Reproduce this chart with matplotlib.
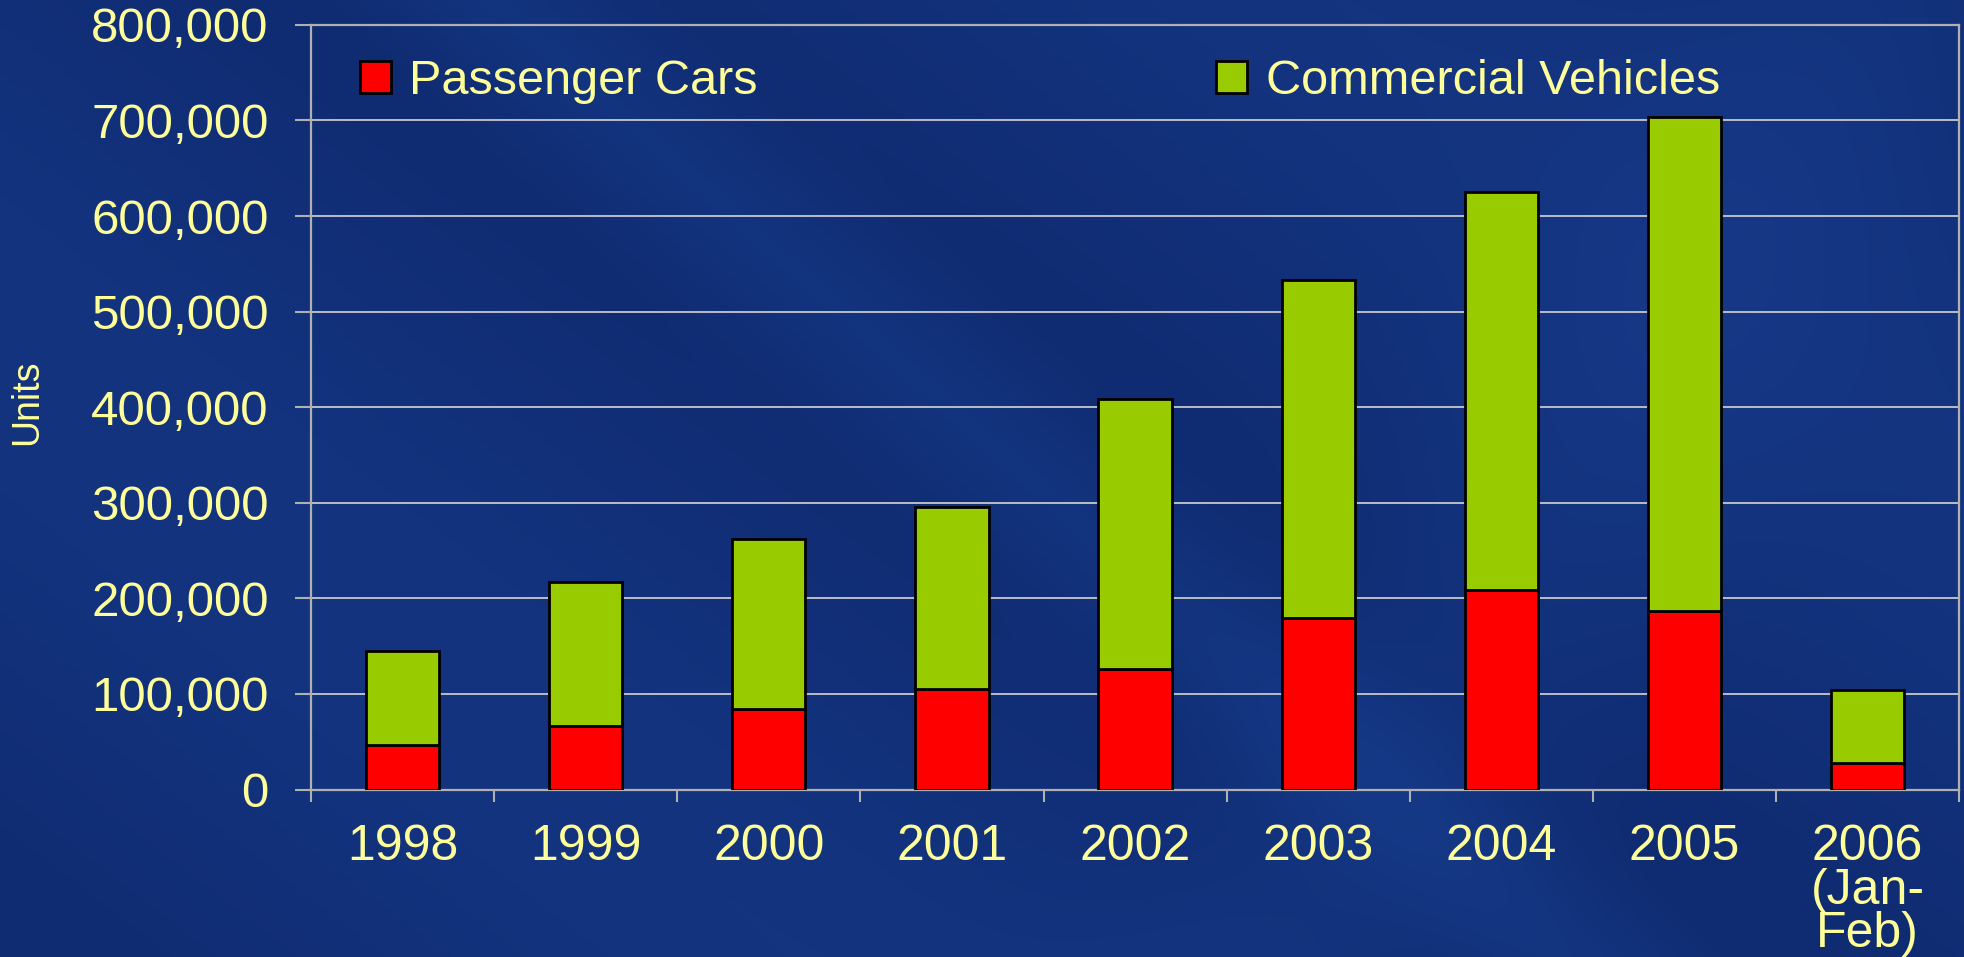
import numpy as np
import matplotlib
matplotlib.use("Agg")
import matplotlib.pyplot as plt
from matplotlib.patches import Patch

# ---- data ----
years = ["1998", "1999", "2000", "2001", "2002", "2003", "2004", "2005", "2006\n(Jan-\nFeb)"]
passenger_cars = [47000, 66500, 84000, 105000, 126000, 179000, 209000, 187000, 28000]
totals = [145000, 217500, 262000, 296000, 409000, 533000, 625000, 704000, 104000]
commercial_vehicles = [t - p for t, p in zip(totals, passenger_cars)]
yticks = [0, 100000, 200000, 300000, 400000, 500000, 600000, 700000, 800000]

TXT = "#FFFF99"
plt.rcParams['font.family'] = ['Liberation Sans', 'DejaVu Sans']

fig = plt.figure(figsize=(19.65, 9.57), dpi=100)

# background gradient
bg = fig.add_axes([0, 0, 1, 1], zorder=-10)
h, w = 240, 490
yy, xx = np.mgrid[0:h, 0:w]
u = xx / w
v = yy / h
base = np.array([20, 52, 128]) / 255.0
dark = np.array([10, 34, 98]) / 255.0
light = np.array([28, 70, 155]) / 255.0
t = 0.5 + 0.5 * np.sin((u * 2.2 - v * 1.4) * np.pi)
band = np.exp(-((u - 0.55 * v - 0.25) ** 2) / 0.004) * 0.6 + np.exp(-((u + 0.3 * v - 0.95) ** 2) / 0.01) * 0.4
img = base[None, None, :] * (1 - 0.5 * t[..., None]) + dark[None, None, :] * (0.5 * t[..., None])
img = img * (1 - band[..., None] * 0.5) + light[None, None, :] * band[..., None] * 0.5
bg.imshow(np.clip(img, 0, 1), aspect='auto', extent=[0, 1, 0, 1], interpolation='bilinear')
bg.axis('off')

ax = fig.add_axes([0.1583, 0.175, 0.8387, 0.799])
ax.set_facecolor('none')

x = np.arange(len(years))
bw = 0.4
ax.bar(x, passenger_cars, bw, color='#FF0000', edgecolor='black', linewidth=2, zorder=3,
       label='Passenger Cars')
ax.bar(x, commercial_vehicles, bw, bottom=passenger_cars, color='#99CC00', edgecolor='black',
       linewidth=2, zorder=3, label='Commercial Vehicles')

ax.set_xlim(-0.5, len(years) - 0.5)
ax.set_ylim(0, 800000)
ax.set_yticks(yticks)
ax.set_yticklabels([f"{v:,}" for v in yticks])
ax.set_xticks(x)
ax.set_xticklabels(years, linespacing=0.93, va='top')
ax.set_xticks(np.arange(-0.5, len(years), 1.0), minor=True)

ax.grid(axis='y', color='#C8C8C8', linewidth=1.3, zorder=0)
ax.set_axisbelow(True)

for s in ['left', 'bottom', 'right', 'top']:
    ax.spines[s].set_color('#B0B0B0')
    ax.spines[s].set_linewidth(1.6)

ax.tick_params(axis='y', colors='#B0B0B0', labelcolor=TXT, labelsize=35.5, length=11.5,
               width=1.5, pad=19)
ax.tick_params(axis='x', which='major', length=0, labelcolor=TXT, labelsize=36, pad=25)
ax.tick_params(axis='x', which='minor', length=8.5, width=1.5, colors='#B0B0B0')

fig.text(0.014, 0.58, "Units", rotation=90, color=TXT, fontsize=27, ha='center', va='center')

handles = [Patch(facecolor='#FF0000', edgecolor='black', linewidth=2),
           Patch(facecolor='#99CC00', edgecolor='black', linewidth=2)]
leg = fig.legend(handles, ['Passenger Cars', 'Commercial Vehicles'], ncol=2,
                 loc='center left', bbox_to_anchor=(0.183, 0.915), frameon=False,
                 fontsize=35, labelcolor=TXT, handlelength=0.64, handleheight=0.64,
                 handletextpad=0.38, columnspacing=9.43, borderpad=0, borderaxespad=0)

fig.savefig("out.png", dpi=100)
